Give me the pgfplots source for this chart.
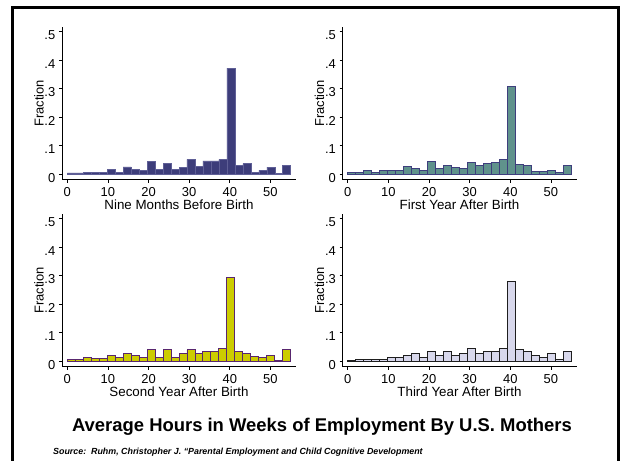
\documentclass[border=0pt]{standalone}
\usepackage{pgfplots}
\usepackage{pgfplotstable}
\pgfplotsset{compat=1.18}
\usepackage{fontspec}
\setmainfont{Liberation Sans}

\definecolor{fillA}{RGB}{61,61,122}
\definecolor{edgeA}{RGB}{95,95,150}
\definecolor{fillB}{RGB}{96,146,140}
\definecolor{edgeB}{RGB}{62,62,125}
\definecolor{fillC}{RGB}{204,204,0}
\definecolor{edgeC}{RGB}{88,38,110}
\definecolor{fillD}{RGB}{216,216,236}
\definecolor{edgeD}{RGB}{30,30,30}

\pgfplotstableread{
x      a      b      c      d
0.982  0.004  0.004  0.005  0.002
2.946  0.004  0.004  0.005  0.005
4.911  0.007  0.011  0.012  0.007
6.875  0.007  0.004  0.008  0.007
8.839  0.007  0.014  0.008  0.007
10.804 0.017  0.014  0.019  0.011
12.768 0.007  0.014  0.012  0.011
14.732 0.025  0.027  0.025  0.019
16.696 0.017  0.018  0.019  0.025
18.661 0.014  0.011  0.014  0.011
20.625 0.043  0.043  0.042  0.035
22.589 0.016  0.018  0.014  0.019
24.554 0.036  0.030  0.039  0.035
26.518 0.016  0.022  0.011  0.020
28.482 0.023  0.018  0.025  0.025
30.446 0.051  0.042  0.039  0.043
32.411 0.028  0.030  0.028  0.025
34.375 0.046  0.036  0.035  0.035
36.339 0.046  0.040  0.032  0.035
38.304 0.051  0.050  0.043  0.043
40.268 0.371  0.307  0.292  0.279
42.232 0.029  0.034  0.032  0.039
44.196 0.036  0.030  0.025  0.032
46.161 0.005  0.009  0.015  0.021
48.125 0.013  0.009  0.012  0.011
50.089 0.024  0.014  0.019  0.025
52.054 0.002  0.006  0.001  0.004
54.018 0.029  0.030  0.039  0.035
}\hours

\pgfplotsset{
  panel/.style={
    scale only axis, width=234bp, height=152.3bp,
    anchor=south west,
    xmin=-1.3, xmax=56.3, ymin=-0.0193, ymax=0.515,
    axis lines*=left,
    axis line style={line width=0.8bp, black},
    xtick={0,10,20,30,40,50}, xticklabels={0,10,20,30,40,50},
    ytick={0,0.1,0.2,0.3,0.4,0.5}, yticklabels={0,.1,.2,.3,.4,.5},
    tick align=outside, major tick length=3bp,
    tick style={black, line width=0.6bp},
    tick label style={font=\fontsize{13}{13}\selectfont, inner sep=0pt},
    xticklabel style={yshift=-4.5bp},
    yticklabel style={xshift=-3.5bp, yshift=-4bp},
    ylabel={Fraction},
    ylabel style={font=\fontsize{13}{13}\selectfont, at={(axis description cs:-0.098,0.5)}, anchor=center, inner sep=0pt},
    xlabel style={font=\fontsize{13.4}{13.4}\selectfont, at={(axis description cs:0.5,-0.164)}, anchor=center, inner sep=0pt},
  },
  bars/.style 2 args={ybar, bar width=1.9643, bar shift=0pt, fill=#1, draw=#2},
}

\begin{document}
\begin{tikzpicture}
\path[use as bounding box] (0,0) rectangle (620bp,-461bp);
\clip (0,0) rectangle (620bp,-461bp);
\fill[white] (0,0) rectangle (620bp,-461bp);
\draw[line width=3bp, black] (12.5bp,-7.5bp) rectangle (618.5bp,-490bp);

\begin{axis}[panel, at={(62bp,-179.5bp)}, xlabel={Nine Months Before Birth}]
\addplot[bars={fillA}{edgeA}, line width=0.5bp] table[x=x, y=a] {\hours};
\end{axis}

\begin{axis}[panel, at={(342.5bp,-179.5bp)}, xlabel={First Year After Birth}]
\addplot[bars={fillB}{edgeB}, line width=0.9bp] table[x=x, y=b] {\hours};
\end{axis}

\begin{axis}[panel, at={(62bp,-366.5bp)}, xlabel={Second Year After Birth}]
\addplot[bars={fillC}{edgeC}, line width=0.9bp] table[x=x, y=c] {\hours};
\end{axis}

\begin{axis}[panel, at={(342.5bp,-366.5bp)}, xlabel={Third Year After Birth}]
\addplot[bars={fillD}{edgeD}, line width=0.9bp] table[x=x, y=d] {\hours};
\end{axis}

\node[anchor=base, font=\bfseries\fontsize{18.5}{18.5}\selectfont, inner sep=0pt] at (322bp,-431.7bp) {Average Hours in Weeks of Employment By U.S. Mothers};
\node[anchor=base west, font=\bfseries\itshape\fontsize{8.9}{8.9}\selectfont, inner sep=0pt] at (53bp,-454bp) {Source:\ \ Ruhm, Christopher J. “Parental Employment and Child Cognitive Development};
\end{tikzpicture}
\end{document}
